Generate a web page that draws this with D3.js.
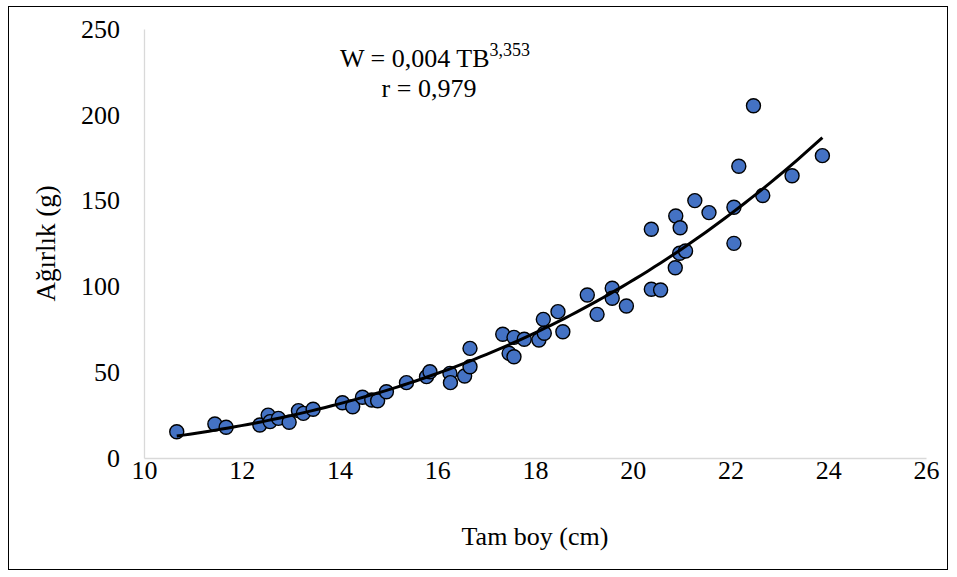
<!DOCTYPE html>
<html>
<head>
<meta charset="utf-8">
<script src="https://cdn.jsdelivr.net/npm/d3@7"></script>
<style>
  html, body { margin: 0; padding: 0; background: #fff; }
  svg { display: block; font-family: "Liberation Serif", "Times New Roman", serif; }
</style>
</head>
<body>
<svg id="chart" width="957" height="577"></svg>
<script>
// Data
const lengthCm = [10.67, 11.45, 11.68, 12.37, 12.54, 12.58, 12.75, 12.97, 13.16, 13.26, 13.46,
  14.06, 14.27, 14.47, 14.66, 14.78, 14.96, 15.37, 15.78, 15.85, 16.26, 16.27, 16.56, 16.67, 16.67,
  17.34, 17.47, 17.57, 17.57, 17.78, 18.08, 18.17, 18.19, 18.47, 18.57, 19.07, 19.27, 19.58, 19.58,
  19.87, 20.38, 20.57, 20.38, 20.88, 20.97, 20.96, 21.08, 20.87, 21.27, 21.56, 22.07, 22.07, 22.17,
  22.47, 22.66, 23.26, 23.88];
const weightG = [15.3, 19.8, 17.9, 19.2, 25.0, 21.2, 23.1, 20.8, 27.6, 26.0, 28.4,
  32.2, 29.9, 35.4, 33.8, 33.4, 38.6, 43.9, 47.4, 50.3, 49.3, 43.9, 47.8, 53.2, 63.9,
  72.1, 61.0, 59.0, 70.3, 69.2, 68.8, 80.8, 72.7, 85.3, 73.6, 95.0, 83.7, 98.9, 93.1,
  88.6, 98.3, 97.9, 133.3, 141.0, 134.2, 119.3, 120.6, 110.9, 150.0, 143.0, 146.1, 125.1, 170.0,
  205.3, 153.0, 164.5, 176.2];
const xTicks = [10, 12, 14, 16, 18, 20, 22, 24, 26];
const yTicks = [0, 50, 100, 150, 200, 250];
const xTitle = "Tam boy (cm)";
const yTitle = "Ağırlık (g)";
const eqMain = "W = 0,004 TB";
const eqExp = "3,353";
const eqR = "r = 0,979";

const FS = 26;

const svg = d3.select("#chart");
const x = d3.scaleLinear().domain([10, 26]).range([144, 926]);
const y = d3.scaleLinear().domain([0, 250]).range([458, 29]);

// outer border
svg.append("rect").attr("x", 8.5).attr("y", 6.5).attr("width", 939).attr("height", 563)
  .attr("fill", "#fff").attr("stroke", "#000").attr("stroke-width", 1);

// axes (light gray lines, no ticks)
const xAxis = d3.axisBottom(x).tickValues(xTicks).tickSize(0).tickPadding(3).tickFormat(d3.format("d"));
const yAxis = d3.axisLeft(y).tickValues(yTicks).tickSize(0).tickPadding(24).tickFormat(d3.format("d"));

const gx = svg.append("g").attr("transform", `translate(0,${y(0)})`).call(xAxis);
const gy = svg.append("g").attr("transform", `translate(${x(10)},0)`).call(yAxis);
[gx, gy].forEach(g => {
  g.select(".domain").attr("stroke", "#d9d9d9").attr("stroke-width", 1.3);
  g.selectAll("text").attr("font-family", "Liberation Serif").attr("font-size", FS).attr("fill", "#000");
});

// axis titles
svg.append("text").attr("x", (x(10) + x(26)) / 2).attr("y", 545)
  .attr("text-anchor", "middle").attr("font-size", FS).attr("fill", "#000").text(xTitle);
svg.append("text").attr("transform", `translate(55,${(y(0) + y(250)) / 2}) rotate(-90)`)
  .attr("text-anchor", "middle").attr("font-size", 27).attr("fill", "#000").text(yTitle);

// power trendline fitted from the data (least squares in log-log space, as Excel does)
const lx = lengthCm.map(Math.log), ly = weightG.map(Math.log);
const mx = d3.mean(lx), my = d3.mean(ly);
const b = d3.sum(lx.map((v, i) => (v - mx) * (ly[i] - my))) / d3.sum(lx.map(v => (v - mx) ** 2));
const a = Math.exp(my - b * mx);
const xmin = d3.min(lengthCm), xmax = d3.max(lengthCm);
const curve = d3.range(0, 101).map(i => {
  const xv = xmin + (xmax - xmin) * i / 100;
  return [xv, a * Math.pow(xv, b)];
});

// points
svg.append("g").selectAll("circle").data(lengthCm.map((v, i) => [v, weightG[i]])).join("circle")
  .attr("cx", d => x(d[0])).attr("cy", d => y(d[1])).attr("r", 7)
  .attr("fill", "#4472C4").attr("stroke", "#000").attr("stroke-width", 1.4);

svg.append("path").datum(curve)
  .attr("d", d3.line().x(d => x(d[0])).y(d => y(d[1])))
  .attr("fill", "none").attr("stroke", "#000").attr("stroke-width", 3);

// equation
const eq = svg.append("text").attr("x", 435).attr("y", 67)
  .attr("text-anchor", "middle").attr("font-size", FS).attr("fill", "#000");
eq.append("tspan").text(eqMain);
eq.append("tspan").attr("font-size", 18).attr("dy", -11).text(eqExp);
svg.append("text").attr("x", 429).attr("y", 97)
  .attr("text-anchor", "middle").attr("font-size", FS).attr("fill", "#000").text(eqR);
</script>
</body>
</html>
